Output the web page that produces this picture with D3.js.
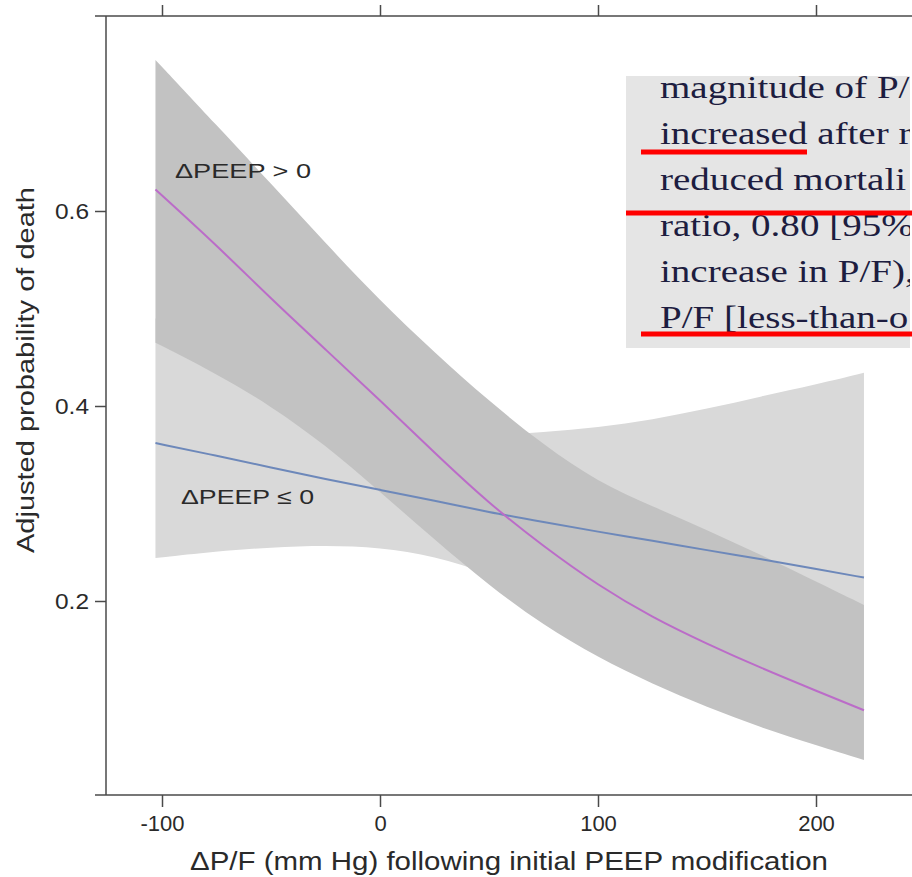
<!DOCTYPE html>
<html>
<head>
<meta charset="utf-8">
<script src="https://cdn.jsdelivr.net/npm/d3@7"></script>
<style>
  body { margin: 0; background: #fff; }
  svg { display: block; }
</style>
</head>
<body>
<script>
const xVals = [-103, -75, -50, -25, 0, 25, 50, 75, 100, 125, 150, 175, 200, 222];

// dPEEP > 0 : fit + 95% band
const posFit   = [0.622, 0.565, 0.510, 0.458, 0.406, 0.352, 0.300, 0.256, 0.216, 0.183, 0.156, 0.131, 0.108, 0.088];
const posUpper = [0.755, 0.688, 0.628, 0.567, 0.508, 0.455, 0.405, 0.360, 0.322, 0.297, 0.273, 0.247, 0.220, 0.196];
const posLower = [0.465, 0.433, 0.400, 0.360, 0.312, 0.263, 0.216, 0.175, 0.142, 0.115, 0.091, 0.070, 0.052, 0.037];

// dPEEP <= 0 : fit + 95% band
const negFit   = [0.362, 0.349, 0.337, 0.325, 0.314, 0.303, 0.291, 0.281, 0.271, 0.262, 0.252, 0.243, 0.233, 0.224];
const negUpper = [0.490, 0.455, 0.425, 0.400, 0.385, 0.375, 0.370, 0.373, 0.378, 0.386, 0.397, 0.410, 0.422, 0.434];
const negLower = [0.244, 0.251, 0.255, 0.257, 0.255, 0.246, 0.228, 0.207, 0.186, 0.166, 0.147, 0.130, 0.114, 0.101];

const xTicks = [-100, 0, 100, 200];
const yTicks = [0.2, 0.4, 0.6];

const xTitle = "\u0394P/F (mm Hg) following initial PEEP modification";
const yTitle = "Adjusted probability of death";
const labelPos = "\u0394PEEP > 0";
const labelNeg = "\u0394PEEP \u2264 0";

// text of the pasted excerpt that covers the top right corner
const noteLines = [
  "magnitude of P/F",
  "increased after ra",
  "reduced mortali",
  "ratio, 0.80 [95%",
  "increase in P/F),",
  "P/F [less-than-o"
];

const width = 912;
const height = 877;

const svg = d3.select("body").append("svg")
  .attr("width", width)
  .attr("height", height);

const x = d3.scaleLinear().domain([-100, 200]).range([162, 816]);
const y = d3.scaleLinear().domain([0, 0.8]).range([796, 16]);

const font = "'Liberation Sans', Arial, Helvetica, sans-serif";
const axisCol = "#4a4a4a";
const textCol = "#2a2a2a";

function rows(fit, lo, hi) {
  return xVals.map((d, i) => ({x: d, fit: fit[i], lo: lo[i], hi: hi[i]}));
}
const pos = rows(posFit, posLower, posUpper);
const neg = rows(negFit, negLower, negUpper);

const area = d3.area()
  .x(d => x(d.x))
  .y0(d => y(d.lo))
  .y1(d => y(d.hi))
  .curve(d3.curveBasis);

const line = d3.line()
  .x(d => x(d.x))
  .y(d => y(d.fit))
  .curve(d3.curveBasis);

// bands: light one first, darker one on top
svg.append("path").datum(neg).attr("d", area).attr("fill", "#d9d9d9");
svg.append("path").datum(pos).attr("d", area).attr("fill", "#c2c2c2");

svg.append("path").datum(neg).attr("d", line)
  .attr("fill", "none").attr("stroke", "#6d88ba").attr("stroke-width", 2);
svg.append("path").datum(pos).attr("d", line)
  .attr("fill", "none").attr("stroke", "#bb6cc8").attr("stroke-width", 2);

// in-plot labels
svg.append("text")
  .attr("x", 175).attr("y", 178)
  .attr("font-family", font).attr("font-size", 21).attr("fill", textCol)
  .attr("textLength", 136).attr("lengthAdjust", "spacingAndGlyphs")
  .text(labelPos);
svg.append("text")
  .attr("x", 181).attr("y", 504)
  .attr("font-family", font).attr("font-size", 21).attr("fill", textCol)
  .attr("textLength", 133).attr("lengthAdjust", "spacingAndGlyphs")
  .text(labelNeg);

// axes
const xAxisBottom = svg.append("g")
  .attr("transform", "translate(0,795)")
  .call(d3.axisBottom(x).tickValues(xTicks).tickSize(12).tickPadding(8)
    .tickFormat(d => String(d)));
xAxisBottom.select(".domain").remove();

const xAxisTop = svg.append("g")
  .attr("transform", "translate(0,16)")
  .call(d3.axisTop(x).tickValues(xTicks).tickSize(11).tickFormat(""));
xAxisTop.select(".domain").remove();

const yAxisLeft = svg.append("g")
  .attr("transform", "translate(106,0)")
  .call(d3.axisLeft(y).tickValues(yTicks).tickSize(11).tickPadding(6)
    .tickFormat(d => d.toFixed(1)));
yAxisLeft.select(".domain").remove();

svg.selectAll(".tick line").attr("stroke", axisCol).attr("stroke-width", 1.5);
svg.selectAll(".tick text")
  .attr("font-family", font).attr("font-size", 22).attr("fill", textCol);
yAxisLeft.selectAll(".tick text").attr("textLength", 34).attr("lengthAdjust", "spacingAndGlyphs");

svg.append("line").attr("x1", 95).attr("x2", width).attr("y1", 795).attr("y2", 795)
  .attr("stroke", axisCol).attr("stroke-width", 1.5);
svg.append("line").attr("x1", 95).attr("x2", width).attr("y1", 16).attr("y2", 16)
  .attr("stroke", axisCol).attr("stroke-width", 1.5);
svg.append("line").attr("x1", 106).attr("x2", 106).attr("y1", 16).attr("y2", 795)
  .attr("stroke", axisCol).attr("stroke-width", 1.5);

// axis titles
svg.append("text")
  .attr("x", 190).attr("y", 870)
  .attr("font-family", font).attr("font-size", 25).attr("fill", textCol)
  .attr("textLength", 638).attr("lengthAdjust", "spacingAndGlyphs")
  .text(xTitle);
svg.append("text")
  .attr("transform", "translate(34,553) rotate(-90)")
  .attr("font-family", font).attr("font-size", 23).attr("fill", textCol)
  .attr("textLength", 366).attr("lengthAdjust", "spacingAndGlyphs")
  .text(yTitle);

// pasted excerpt box
svg.append("clipPath").attr("id", "noteclip")
  .append("rect").attr("x", 626).attr("y", 76).attr("width", 284).attr("height", 272);
svg.append("rect")
  .attr("x", 626).attr("y", 76).attr("width", 284).attr("height", 272)
  .attr("fill", "#e5e5e5");

const note = svg.append("g").attr("clip-path", "url(#noteclip)");
noteLines.forEach((t, i) => {
  note.append("text")
    .attr("transform", "translate(660," + (98 + i * 46) + ") scale(1.26,1)")
    .attr("font-family", "'Liberation Serif', 'Times New Roman', serif")
    .attr("font-size", 31)
    .attr("fill", "#1d1d40")
    .text(t);
});

const marks = [[641, 807, 152], [626, width, 213], [641, width, 334]];
marks.forEach(m => {
  svg.append("line")
    .attr("x1", m[0]).attr("x2", m[1]).attr("y1", m[2]).attr("y2", m[2])
    .attr("stroke", "#ff0000").attr("stroke-width", 5);
});
</script>
</body>
</html>
